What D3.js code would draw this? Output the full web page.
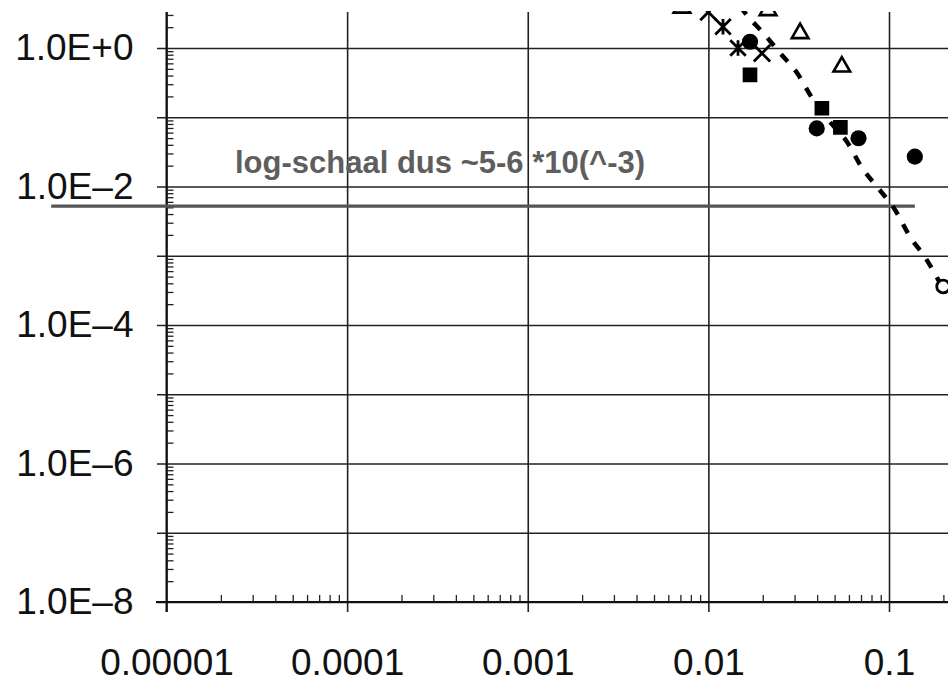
<!DOCTYPE html>
<html>
<head>
<meta charset="utf-8">
<script src="https://cdn.jsdelivr.net/npm/d3@7"></script>
<style>
    body { margin: 0; background: #fff; }
    svg { display: block; font-family: Arial, "Liberation Sans", sans-serif; }
</style>
</head>
<body>
<div id="chart"></div>
<script>
// tick values and labels
const xMajor = [1e-5, 1e-4, 1e-3, 1e-2, 1e-1];
const xLabels = ["0.00001", "0.0001", "0.001", "0.01", "0.1"];
const yMajor = [1e-8, 1e-7, 1e-6, 1e-5, 1e-4, 1e-3, 1e-2, 1e-1, 1e0];
const yLabelValues = [1e0, 1e-2, 1e-4, 1e-6, 1e-8];
const yLabels = ["1.0E+0", "1.0E\u20132", "1.0E\u20134", "1.0E\u20136", "1.0E\u20138"];

// points (x, y)
const circles = [[0.0170, 1.23], [0.0398, 0.069], [0.0678, 0.0497], [0.139, 0.027]];
const squares = [[0.0170, 0.41], [0.0425, 0.135], [0.0538, 0.0716]];
const triangles = [[0.00714, 3.8], [0.0214, 3.5], [0.0322, 1.63], [0.0548, 0.537]];
const crosses = [[0.0100, 3.3], [0.0198, 0.84]];
const stars = [[0.01205, 2.03], [0.01459, 1.0]];
const openCircles = [[0.1995, 3.6e-4]];

// dashed trend line
const trendX = [0.0150, 0.0163, 0.0201, 0.0249, 0.031, 0.0375, 0.0472, 0.0586, 0.071, 0.087, 0.108, 0.131, 0.158, 0.192];
const trendY = [4.0, 3.0, 1.65, 0.85, 0.435, 0.19, 0.0854, 0.044, 0.0185, 0.0095, 0.0046, 0.00186, 9.6e-4, 4.0e-4];

// hand drawn note
const noteText = "log-schaal dus ~5-6 *10(^-3)";
const noteLevel = 5.2e-3;
const noteFrom = 2.3e-6;
const noteTo = 0.139;

var w = 948;
var h = 684;
var yTopValue = 3.3;

var x = d3.scaleLog().domain([1e-5, 1e-1]).range([166.5, 889]);
var y = d3.scaleLog().domain([1e-8, 1]).range([602, 48]);
var plotTop = y(yTopValue);

var svg = d3.select("#chart")
    .append("svg")
    .attr("width", w)
    .attr("height", h);

// minor tick positions (2..9 in each decade)
var xMinor = [];
xMajor.forEach(function (d) {
    for (var k = 2; k <= 9; k++) xMinor.push(d * k);
});
var yMinor = [];
yMajor.forEach(function (d) {
    for (var k = 2; k <= 9; k++) {
        if (d * k <= yTopValue) yMinor.push(d * k);
    }
});

function styleLines(g, color, width) {
    g.select(".domain").remove();
    g.selectAll(".tick line").attr("stroke", color).attr("stroke-width", width);
}

// vertical grid lines (continue below the axis as major ticks)
svg.append("g")
    .attr("transform", "translate(0,612)")
    .call(d3.axisBottom(x).tickValues(xMajor).tickSize(-(612 - plotTop)).tickFormat(""))
    .call(styleLines, "#222", 1.6);

// horizontal grid lines
svg.append("g")
    .attr("transform", "translate(157,0)")
    .call(d3.axisLeft(y).tickValues(yMajor).tickSize(-(w - 157)).tickFormat(""))
    .call(styleLines, "#222", 1.6);

// minor ticks
svg.append("g")
    .attr("transform", "translate(166.5,0)")
    .call(d3.axisRight(y).tickValues(yMinor).tickSize(7).tickFormat(""))
    .call(styleLines, "#222", 1.3);

svg.append("g")
    .attr("transform", "translate(0,602)")
    .call(d3.axisTop(x).tickValues(xMinor).tickSize(7).tickFormat(""))
    .call(styleLines, "#222", 1.3);

// axis lines
svg.append("line")
    .attr("x1", 166.5).attr("x2", 166.5)
    .attr("y1", plotTop).attr("y2", 612)
    .attr("stroke", "#111").attr("stroke-width", 2);
svg.append("line")
    .attr("x1", 156).attr("x2", w)
    .attr("y1", 602).attr("y2", 602)
    .attr("stroke", "#111").attr("stroke-width", 2);

// tick labels
var yAxis = svg.append("g")
    .attr("transform", "translate(166.5,0)")
    .call(d3.axisLeft(y).tickValues(yLabelValues)
        .tickFormat(function (d, i) { return yLabels[i]; })
        .tickSize(0).tickPadding(33));
yAxis.select(".domain").remove();
yAxis.selectAll("text")
    .attr("font-family", "Arial, 'Liberation Sans', sans-serif")
    .attr("font-size", 37)
    .attr("fill", "#111");

var xAxis = svg.append("g")
    .attr("transform", "translate(0,602)")
    .call(d3.axisBottom(x).tickValues(xMajor)
        .tickFormat(function (d, i) { return xLabels[i]; })
        .tickSize(0).tickPadding(47));
xAxis.select(".domain").remove();
xAxis.selectAll("text")
    .attr("font-family", "Arial, 'Liberation Sans', sans-serif")
    .attr("font-size", 37)
    .attr("fill", "#111");

// note line and text
svg.append("line")
    .attr("x1", x(noteFrom)).attr("x2", x(noteTo))
    .attr("y1", y(noteLevel)).attr("y2", y(noteLevel))
    .attr("stroke", "#555").attr("stroke-width", 3.2);

svg.append("text")
    .attr("x", 235)
    .attr("y", 173)
    .attr("font-size", 31)
    .attr("font-weight", "bold")
    .attr("fill", "#5e5e5e")
    .text(noteText);

// markers are clipped to the plot area
svg.append("clipPath")
    .attr("id", "plotClip")
    .append("rect")
    .attr("x", 166.5).attr("y", plotTop - 1)
    .attr("width", w).attr("height", h);

var plot = svg.append("g").attr("clip-path", "url(#plotClip)");

var trend = d3.line()
    .x(function (d) { return x(d[0]); })
    .y(function (d) { return y(d[1]); })
    .curve(d3.curveMonotoneX);

plot.append("path")
    .datum(trendX.map(function (d, i) { return [d, trendY[i]]; }))
    .attr("d", trend)
    .attr("fill", "none")
    .attr("stroke", "#000")
    .attr("stroke-width", 4.5)
    .attr("stroke-dasharray", "10,11");

// Excel style star: X with a vertical bar
var starSymbol = {
    draw: function (context, size) {
        var r = Math.sqrt(size) / 2;
        context.moveTo(-r, -r); context.lineTo(r, r);
        context.moveTo(-r, r); context.lineTo(r, -r);
        context.moveTo(0, -r); context.lineTo(0, r);
    }
};

function drawMarkers(data, type, size, fill, stroke, width) {
    plot.selectAll(null)
        .data(data)
        .enter()
        .append("path")
        .attr("transform", function (d) { return "translate(" + x(d[0]) + "," + y(d[1]) + ")"; })
        .attr("d", d3.symbol().type(type).size(size))
        .attr("fill", fill)
        .attr("stroke", stroke)
        .attr("stroke-width", width);
}

drawMarkers(circles, d3.symbolCircle, 205, "#000", "none", 0);
drawMarkers(squares, d3.symbolSquare, 215, "#000", "none", 0);
drawMarkers(triangles, d3.symbolTriangle, 120, "#fff", "#000", 2.6);
drawMarkers(crosses, d3.symbolX, 175, "none", "#000", 2.8);
drawMarkers(stars, starSymbol, 240, "none", "#000", 2.8);
drawMarkers(openCircles, d3.symbolCircle, 130, "#fff", "#000", 2.8);
</script>
</body>
</html>
